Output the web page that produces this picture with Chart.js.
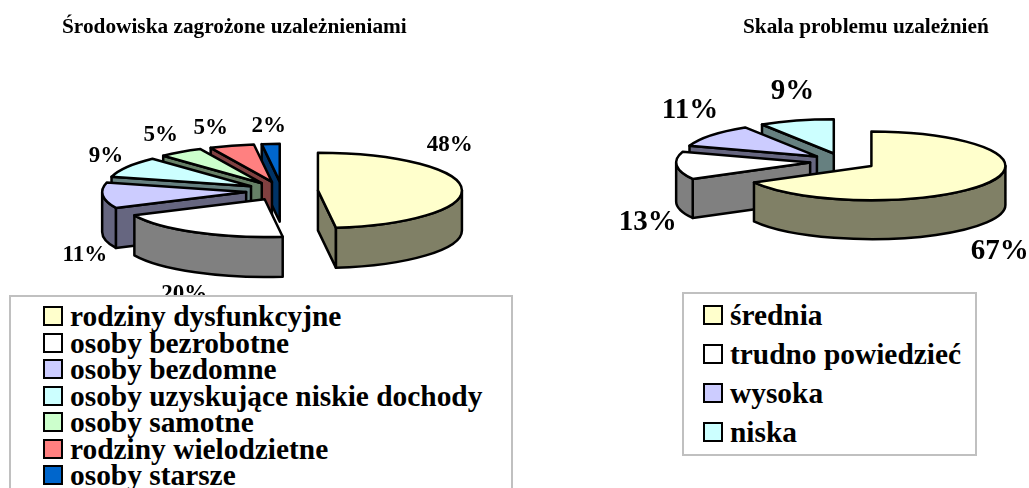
<!DOCTYPE html>
<html lang="pl"><head><meta charset="utf-8">
<script src="https://cdn.jsdelivr.net/npm/chart.js@4"></script>
<style>
html,body{margin:0;padding:0;background:#fff;width:1029px;height:488px;overflow:hidden}
body{position:relative;font-family:"Liberation Serif",serif;font-weight:bold;color:#000}
canvas{position:absolute;top:0}
.title{position:absolute;white-space:nowrap;font-size:21.3px;line-height:24px}
.legend{position:absolute;box-sizing:border-box;background:#fff;border:2px solid #c0c0c0;overflow:hidden}
.row{position:absolute;white-space:nowrap}
.box{position:absolute;box-sizing:border-box;border:2px solid #000}
</style></head><body>
<canvas id="left" width="515" height="488" style="left:0"></canvas>
<canvas id="right" width="514" height="488" style="left:515px"></canvas>
<script>
const leftTitle = "Środowiska zagrożone uzależnieniami";
const leftCategories = ["rodziny dysfunkcyjne","osoby bezrobotne","osoby bezdomne","osoby uzyskujące niskie dochody","osoby samotne","rodziny wielodzietne","osoby starsze"];
const leftValues = [48,20,11,9,5,5,2];
const leftColors = ["#FFFFCC","#FFFFFF","#CCCCFF","#CCFFFF","#CCFFCC","#FF8080","#0066CC"];

const rightTitle = "Skala problemu uzależnień";
const rightCategories = ["średnia","trudno powiedzieć","wysoka","niska"];
const rightValues = [67,13,11,9];
const rightColors = ["#FFFFCC","#FFFFFF","#CCCCFF","#CCFFFF"];

const darken = c => { const n = parseInt(c.slice(1),16);
  const f = v => Math.round(v*0.5);
  return `rgb(${f(n>>16&255)},${f(n>>8&255)},${f(n&255)})`; };

function pie3d(cfg){
  return {
    id:'pie3d',
    beforeDatasetDraw(chart){
      const ctx = chart.ctx, arcs = chart.getDatasetMeta(0).data;
      const {ratio, explode, depth} = cfg;
      ctx.save();
      ctx.lineWidth = 2.5; ctx.strokeStyle = '#000'; ctx.lineJoin = 'round';
      for(let i = arcs.length-1; i >= 0; i--){
        const a = arcs[i], R = a.outerRadius, ry = R*ratio;
        const s = a.startAngle, e = a.endAngle, mid = (s+e)/2;
        const x = a.x + explode*Math.cos(mid), y = a.y + explode*ratio*Math.sin(mid);
        const col = chart.data.datasets[0].backgroundColor[i], dark = darken(col);
        const px = t => x + R*Math.cos(t), py = t => y + ry*Math.sin(t);
        const face = t => { ctx.beginPath(); ctx.moveTo(x,y); ctx.lineTo(px(t),py(t));
          ctx.lineTo(px(t),py(t)+depth); ctx.lineTo(x,y+depth); ctx.closePath();
          ctx.fillStyle = dark; ctx.fill(); ctx.stroke(); };
        if(Math.cos(s) < 0) face(s);
        if(Math.cos(e) > 0) face(e);
        const TAU = Math.PI*2;
        for(const k of [0,1]){
          const t0 = Math.max(s, k*TAU), t1 = Math.min(e, k*TAU+Math.PI);
          if(t1 > t0){
            ctx.beginPath(); ctx.ellipse(x,y,R,ry,0,t0,t1);
            ctx.ellipse(x,y+depth,R,ry,0,t1,t0,true); ctx.closePath();
            ctx.fillStyle = dark; ctx.fill(); ctx.stroke();
          }
        }
        ctx.beginPath(); ctx.moveTo(x,y); ctx.ellipse(x,y,R,ry,0,s,e); ctx.closePath();
        ctx.fillStyle = col; ctx.fill(); ctx.stroke();
      }
      ctx.fillStyle = '#000'; ctx.textAlign = 'center'; ctx.textBaseline = 'middle';
      ctx.font = `bold ${cfg.labelSize}px "Liberation Serif"`;
      arcs.forEach((a,i) => {
        const mid = (a.startAngle+a.endAngle)/2, r = a.outerRadius + explode;
        const [dx,dy] = cfg.labelShift[i];
        ctx.fillText(chart.data.datasets[0].data[i]+'%', a.x + r*Math.cos(mid) + dx, a.y + r*ratio*Math.sin(mid) + dy);
      });
      ctx.restore();
      return false;
    }
  };
}

function makeChart(id, labels, values, colors, cfg){
  const c = document.getElementById(id);
  new Chart(c, {
    type:'pie',
    data:{labels, datasets:[{data:values, backgroundColor:colors, borderWidth:0}]},
    options:{
      responsive:false, animation:false, radius:cfg.radius,
      layout:{padding:cfg.padding},
      plugins:{legend:{display:false}, title:{display:false}, tooltip:{enabled:false}}
    },
    plugins:[pie3d(cfg)]
  });
}

makeChart('left', leftCategories, leftValues, leftColors, {
  radius:144, ratio:0.262, explode:36, depth:40, labelSize:23,
  padding:{left:182, right:133, top:91, bottom:197},
  labelShift:[[-12,-43],[-11,62],[-18,60],[-21,-11],[-20,-17],[-21,-18],[-2,-18]]
});
makeChart('right', rightCategories, rightValues, rightColors, {
  radius:134, ratio:0.256, explode:33, depth:39, labelSize:29,
  padding:{left:228, right:86, top:61.6, bottom:226.4},
  labelShift:[[13,68],[-29,57],[-21,-25],[-4,-29]]
});

function title(text,x,y){
  const d=document.createElement('div'); d.className='title'; d.textContent=text;
  d.style.left=x+'px'; d.style.top=y+'px'; document.body.appendChild(d);
}
title(leftTitle,62,14);
title(rightTitle,743,14);

function legend(labels,colors,o){
  const b=document.createElement('div'); b.className='legend';
  Object.assign(b.style,{left:o.x+'px',top:o.y+'px',width:o.w+'px',height:o.h+'px'});
  labels.forEach((t,i)=>{
    const cy=o.first+i*o.step;
    const s=document.createElement('div'); s.className='box';
    Object.assign(s.style,{left:o.boxX+'px',top:(cy-o.box/2)+'px',width:o.box+'px',height:o.box+'px',background:colors[i]});
    const r=document.createElement('div'); r.className='row'; r.textContent=t;
    Object.assign(r.style,{left:o.textX+'px',top:(cy+1-o.size*0.6)+'px',fontSize:o.size+'px',lineHeight:(o.size*1.2)+'px'});
    b.append(s,r);
  });
  document.body.appendChild(b);
}
legend(leftCategories,leftColors,{x:9,y:295,w:504,h:200,first:19,step:26.5,box:20,boxX:32,textX:59,size:29.4});
legend(rightCategories,rightColors,{x:682,y:292,w:295,h:164,first:21,step:39,box:20,boxX:19,textX:46,size:29.4});
</script>
</body></html>
